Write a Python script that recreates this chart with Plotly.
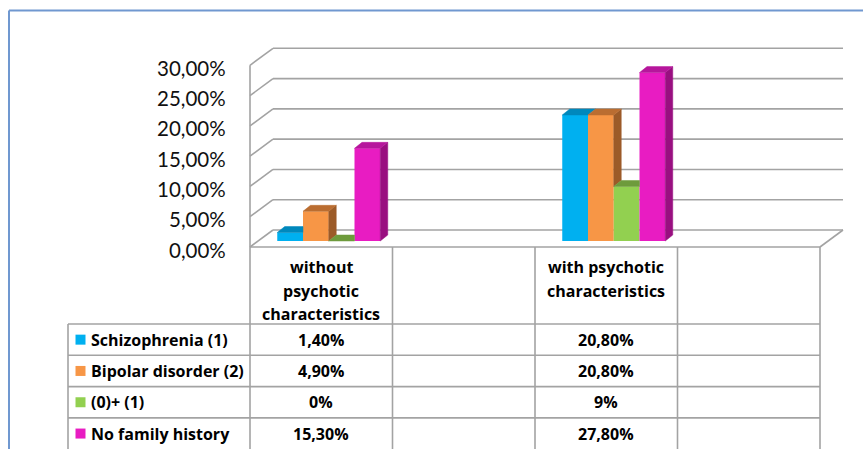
import plotly.graph_objects as go

# ---------------- data ----------------
categories = ["without\npsychotic\ncharacteristics", "", "with psychotic\ncharacteristics", ""]
series_names = ["Schizophrenia (1)", "Bipolar disorder (2)", "(0)+ (1)", "No family history"]
schizophrenia = [1.4, None, 20.8, None]
bipolar = [4.9, None, 20.8, None]
combined = [0.0, None, 9.0, None]
no_family = [15.3, None, 27.8, None]
series_values = [schizophrenia, bipolar, combined, no_family]
series_decimals = [2, 2, 0, 2]
y_ticks = [0, 5, 10, 15, 20, 25, 30]

# ---------------- styles ----------------
front_colors = ["#00B0F0", "#F79646", "#92D050", "#E81CC2"]
top_colors = ["#0088BC", "#BA6D31", "#6E9B3C", "#B6169C"]
side_colors = ["#0077A6", "#9C5B28", "#5E8A30", "#990F80"]
FONT = "Lato"
TABLE_FONT = "Open Sans"
GRID = "#A3A3A3"

W, H = 863, 449
K = 142.5            # px per category column
X0PX = 250           # px of front-left corner
S = 181.7 / 30       # px per percent
Y0PX = 247           # px of front floor edge

DX, DY = 23 / K, 17 / S        # wall depth
BX, BY = 7.5 / K, 6 / S        # bar front offset (depth)
BDX, BDY = 7.5 / K, 6 / S      # bar depth
BW = 25.75 / K                 # bar width
NC = len(categories)


def px_x(px):
    return (px - X0PX) / K


def paper_y(py):
    return 1 - py / H


def fmt(v, d):
    return (f"{v:.{d}f}%").replace(".", ",")


fig = go.Figure()

# ---------------- 3D walls / grid ----------------
shapes = []
line = dict(color=GRID, width=1.6)
for t in y_ticks:
    shapes.append(dict(type="line", xref="x", yref="y", x0=0, y0=t, x1=DX, y1=t + DY, line=line, layer="below"))
    shapes.append(dict(type="line", xref="x", yref="y", x0=DX, y0=t + DY, x1=NC + DX, y1=t + DY, line=line, layer="below"))
shapes.append(dict(type="line", xref="x", yref="y", x0=0, y0=0, x1=0, y1=y_ticks[-1], line=line, layer="below"))
shapes.append(dict(type="line", xref="x", yref="y", x0=NC, y0=0, x1=NC + DX, y1=DY, line=line, layer="below"))

# ---------------- bars ----------------
n_series = len(series_values)
for k, vals in enumerate(series_values):
    fig.add_trace(go.Bar(
        x=[i + 0.5 for i in range(NC)], y=vals, base=BY,
        width=BW, offset=BX - n_series * BW / 2 + k * BW,
        marker=dict(color=front_colors[k], line=dict(width=0)),
        name=series_names[k], showlegend=False, hoverinfo="skip",
    ))

# top and side faces, painter's order
for i in range(NC):
    for k, vals in enumerate(series_values):
        v = vals[i]
        if v is None:
            continue
        x0 = i + 0.5 + BX - n_series * BW / 2 + k * BW
        x1 = x0 + BW
        yb, yt = BY, BY + v
        nxt = series_values[k + 1][i] if k + 1 < n_series else None
        # side face (visible part)
        lo = 0 if nxt is None else nxt
        if nxt is None or nxt < v:
            fig.add_trace(go.Scatter(
                x=[x1, x1, x1 + BDX, x1 + BDX, x1],
                y=[yb + lo, yt, yt + BDY, yb + lo + BDY, yb + lo],
                fill="toself", fillcolor=side_colors[k], mode="lines",
                line=dict(width=0.5, color=side_colors[k]), showlegend=False, hoverinfo="skip"))
        # top face
        if nxt is not None and nxt > v:
            tx = [x0, x1, x1, x0 + BDX, x0]
            ty = [yt, yt, yt + BDY, yt + BDY, yt]
        else:
            tx = [x0, x1, x1 + BDX, x0 + BDX, x0]
            ty = [yt, yt, yt + BDY, yt + BDY, yt]
        fig.add_trace(go.Scatter(
            x=tx, y=ty, fill="toself", fillcolor=top_colors[k], mode="lines",
            line=dict(width=0.5, color=top_colors[k]), showlegend=False, hoverinfo="skip"))

# ---------------- data table ----------------
tline = dict(color=GRID, width=1.6)
header_top, header_bottom = 247, 324
row_h = 31.3
row_tops = [header_bottom + r * row_h for r in range(n_series + 1)]
label_left = px_x(68)

shapes.append(dict(type="line", xref="x", yref="paper", x0=0, x1=NC, y0=paper_y(header_top), y1=paper_y(header_top), line=tline))
for c in range(NC + 1):
    shapes.append(dict(type="line", xref="x", yref="paper", x0=c, x1=c, y0=paper_y(header_top), y1=0, line=tline))
shapes.append(dict(type="line", xref="x", yref="paper", x0=label_left, x1=label_left, y0=paper_y(header_bottom), y1=0, line=tline))
for rt in row_tops:
    if rt < H:
        shapes.append(dict(type="line", xref="x", yref="paper", x0=label_left, x1=NC, y0=paper_y(rt), y1=paper_y(rt), line=tline))

# outer chart frame
frame = dict(color="#7098D0", width=2)
shapes.append(dict(type="line", xref="paper", yref="paper", x0=9 / W, x1=1, y0=paper_y(10.5), y1=paper_y(10.5), line=frame))
shapes.append(dict(type="line", xref="paper", yref="paper", x0=9 / W, x1=9 / W, y0=paper_y(10.5), y1=0, line=frame))

annotations = []
tfont = dict(family=TABLE_FONT, size=16, color="#000000", weight="bold")
# header
for c, cat in enumerate(categories):
    for j, ln in enumerate(cat.split("\n")):
        if not ln:
            continue
        annotations.append(dict(xref="x", yref="paper", x=c + 0.5, y=paper_y(267 + j * 23.5),
                                text=ln, showarrow=False, xanchor="center", yanchor="middle", font=tfont))
# rows
for r, name in enumerate(series_names):
    yc = paper_y(row_tops[r] + row_h / 2)
    annotations.append(dict(xref="x", yref="paper", x=px_x(89), y=yc, text=name, showarrow=False,
                            xanchor="left", yanchor="middle", font=tfont))
    for c in range(NC):
        v = series_values[r][c]
        if v is None:
            continue
        annotations.append(dict(xref="x", yref="paper", x=c + 0.5, y=yc, text=fmt(v, series_decimals[r]),
                                showarrow=False, xanchor="center", yanchor="middle", font=tfont))

# y tick labels (front plane), slightly below the front grid level as in Excel
tick_font = dict(family=FONT, size=20.5, color="#111111")
for t in y_ticks:
    annotations.append(dict(xref="x", yref="y", x=px_x(228), y=t, yshift=-2.5, text=fmt(t, 2),
                            showarrow=False, xanchor="right", yanchor="middle", font=tick_font))

# legend keys in table
fig.add_trace(go.Scatter(
    x=[px_x(80.5)] * n_series,
    y=[(Y0PX - (row_tops[r] + row_h / 2)) / S for r in range(n_series)],
    mode="markers", marker=dict(symbol="square", size=10, color=front_colors, line=dict(width=0)),
    showlegend=False, hoverinfo="skip"))

fig.update_layout(
    width=W, height=H, margin=dict(l=0, r=0, t=0, b=0), autosize=False,
    paper_bgcolor="white", plot_bgcolor="white",
    barmode="overlay", showlegend=False,
    shapes=shapes, annotations=annotations,
    xaxis=dict(range=[px_x(0), px_x(W)], visible=False, domain=[0, 1]),
    yaxis=dict(range=[(Y0PX - H) / S, Y0PX / S], domain=[0, 1], visible=False),
)

fig.write_html("out.html")
